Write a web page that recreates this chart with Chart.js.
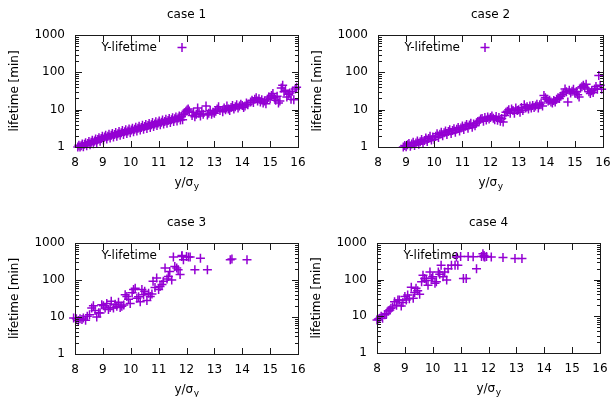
<!DOCTYPE html>
<html>
<head>
<meta charset="utf-8">
<script src="https://cdn.jsdelivr.net/npm/chart.js@4"></script>
<style>
  html, body { margin: 0; padding: 0; background: #fff; }
  #wrap { position: relative; width: 611px; height: 397px; overflow: hidden; background: #fff; }
  #wrap canvas { position: absolute; }
</style>
</head>
<body>
<div id="wrap"></div>
<script>
/************************************************
 *  DATA
 ************************************************/
const titles = ['case 1', 'case 2', 'case 3', 'case 4'];
const seriesLabel = 'Y-lifetime';
const xTicks = [8, 9, 10, 11, 12, 13, 14, 15, 16];
const yTicks = [1, 10, 100, 1000];
const yMinorTicks = [2, 3, 4, 5, 6, 7, 8, 9, 20, 30, 40, 50, 60, 70, 80, 90, 200, 300, 400, 500, 600, 700, 800, 900];

const case1X = [8.10, 8.14, 8.18, 8.22, 8.26, 8.30, 8.34, 8.38, 8.42, 8.46, 8.50, 8.54, 8.58, 8.62, 8.66, 8.70, 8.74, 8.78, 8.82, 8.86,
  8.90, 8.94, 8.98, 9.02, 9.06, 9.10, 9.14, 9.18, 9.22, 9.26, 9.30, 9.34, 9.38, 9.42, 9.46, 9.50, 9.54, 9.58, 9.62, 9.66,
  9.70, 9.74, 9.78, 9.82, 9.86, 9.90, 9.94, 9.98, 10.02, 10.06, 10.10, 10.14, 10.18, 10.22, 10.26, 10.30, 10.34, 10.38, 10.42, 10.46,
  10.50, 10.54, 10.58, 10.62, 10.66, 10.70, 10.74, 10.78, 10.82, 10.86, 10.90, 10.94, 10.98, 11.02, 11.06, 11.10, 11.14, 11.18, 11.22, 11.26,
  11.30, 11.34, 11.38, 11.42, 11.46, 11.50, 11.54, 11.58, 11.62, 11.66, 11.70, 11.74, 11.78, 11.82, 11.86, 11.90, 11.94, 11.98, 12.02, 12.06, 12.10,
  12.20, 12.25, 12.30, 12.35, 12.40, 12.45, 12.50, 12.55, 12.60, 12.70, 12.75, 12.80, 12.85, 12.90, 12.95, 13.00, 13.05, 13.10, 13.15, 13.20,
  13.30, 13.35, 13.40, 13.45, 13.50, 13.55, 13.60, 13.65, 13.70, 13.75, 13.80, 13.85, 13.90, 13.95, 14.00, 14.05, 14.10, 14.15, 14.20, 14.30,
  14.35, 14.40, 14.45, 14.50, 14.55, 14.60, 14.65, 14.70, 14.75, 14.80, 14.85, 14.90, 14.95, 15.00, 15.05, 15.10, 15.15, 15.20, 15.25, 15.30,
  15.35, 15.40, 15.45, 15.50, 15.55, 15.60, 15.65, 15.70, 15.75, 15.80, 15.85, 15.90, 15.95];
const case1Y = [1.00, 1.12, 1.00, 1.08, 1.20, 1.02, 1.18, 1.30, 1.08, 1.25, 1.40, 1.15, 1.35, 1.52, 1.22, 1.45, 1.65, 1.32, 1.58, 1.78,
  1.42, 1.70, 1.95, 1.55, 1.85, 2.05, 1.65, 1.95, 2.20, 1.75, 2.05, 2.30, 1.85, 2.15, 2.45, 1.95, 2.28, 2.60, 2.05, 2.40,
  2.75, 2.15, 2.55, 2.90, 2.30, 2.70, 3.05, 2.40, 2.85, 3.20, 2.55, 3.00, 3.40, 2.70, 3.20, 3.60, 2.85, 3.35, 3.80, 3.00,
  3.55, 4.00, 3.15, 3.75, 4.25, 3.35, 3.95, 4.50, 3.55, 4.15, 4.75, 3.75, 4.40, 5.00, 3.95, 4.60, 5.25, 4.15, 4.85, 5.50,
  4.35, 5.10, 5.80, 4.55, 5.35, 6.10, 4.80, 5.70, 6.40, 5.00, 6.00, 6.80, 5.30, 6.60, 5.40, 7.50, 8.20, 9.00, 9.80, 10.5, 9.20,
  7.0, 8.5, 6.5, 7.5, 11.0, 8.0, 6.8, 9.0, 7.5, 12.5, 7.2, 8.0, 9.5, 7.5, 8.5, 8.0, 9.0, 10.5, 12.0, 9.5,
  8.8, 11.0, 10.0, 12.5, 10.5, 9.5, 11.5, 13.0, 10.5, 12.0, 13.5, 11.0, 12.5, 14.0, 13.0, 11.5, 12.5, 15.0, 13.5, 16.0,
  18.0, 15.5, 19.0, 21.0, 17.0, 19.5, 16.0, 18.5, 15.0, 17.0, 14.5, 19.0, 22.0, 20.0, 24.0, 27.0, 21.0, 18.0, 23.0, 15.0,
  17.0, 38.0, 45.0, 30.0, 33.0, 22.0, 26.0, 28.0, 19.0, 31.0, 18.5, 36.0, 40.0];

const case2X = [8.90, 8.95, 9.00, 9.05, 9.10, 9.15, 9.20, 9.25, 9.30, 9.35, 9.40, 9.45, 9.50, 9.55, 9.60, 9.65, 9.70, 9.75, 9.80, 9.85,
  9.90, 9.95, 10.00, 10.05, 10.10, 10.15, 10.20, 10.25, 10.30, 10.35, 10.40, 10.45, 10.50, 10.55, 10.60, 10.65, 10.70, 10.75, 10.80, 10.85,
  10.90, 10.95, 11.00, 11.05, 11.10, 11.15, 11.20, 11.25, 11.30, 11.35, 11.40, 11.45, 11.50, 11.55, 11.60, 11.65, 11.70, 11.75, 11.80, 11.85,
  11.90, 11.95, 12.00, 12.05, 12.10, 12.15, 12.20, 12.25, 12.30, 12.35, 12.40, 12.45, 12.50, 12.55, 12.60, 12.65, 12.70, 12.75, 12.80, 12.85,
  12.90, 12.95, 13.00, 13.05, 13.10, 13.15, 13.20, 13.25, 13.30, 13.35, 13.40, 13.45, 13.50, 13.55, 13.60, 13.65, 13.70, 13.75, 13.80, 13.85,
  13.90, 13.95, 14.00, 14.05, 14.10, 14.15, 14.20, 14.25, 14.30, 14.35, 14.40, 14.45, 14.50, 14.55, 14.60, 14.65, 14.70, 14.75, 14.80, 14.85,
  14.90, 14.95, 15.00, 15.05, 15.10, 15.15, 15.20, 15.25, 15.30, 15.35, 15.40, 15.45, 15.50, 15.55, 15.60, 15.65, 15.70, 15.75, 15.80, 15.85,
  15.90, 15.95];
const case2Y = [1.00, 1.10, 1.02, 1.15, 1.25, 1.05, 1.20, 1.35, 1.10, 1.28, 1.45, 1.18, 1.38, 1.58, 1.28, 1.50, 1.75, 1.40, 1.70, 1.95,
  1.55, 1.85, 1.60, 1.95, 2.25, 1.80, 2.20, 2.50, 2.00, 2.40, 2.70, 2.15, 2.60, 2.90, 2.30, 2.75, 3.10, 2.50, 3.00, 3.35,
  2.70, 3.25, 3.65, 2.95, 3.60, 4.00, 3.20, 3.90, 4.30, 3.40, 4.10, 3.70, 4.40, 4.80, 5.00, 5.60, 5.80, 4.90, 6.20, 5.30,
  6.40, 5.60, 6.20, 6.80, 5.90, 5.40, 6.60, 5.20, 6.20, 4.90, 5.80, 4.70, 7.00, 8.50, 9.00, 10.0, 8.00, 10.5, 9.50, 8.00,
  11.0, 9.50, 10.0, 8.50, 11.5, 9.50, 13.5, 11.0, 12.0, 10.5, 12.5, 11.0, 13.0, 11.5, 12.5, 14.0, 11.0, 13.5, 15.0, 12.5,
  24.0, 21.0, 19.0, 17.0, 18.0, 16.0, 15.0, 17.5, 16.0, 19.0, 21.0, 20.0, 23.0, 25.0, 28.0, 36.0, 30.0, 16.0, 33.0, 28.0,
  31.0, 35.0, 28.0, 30.0, 25.0, 22.0, 38.0, 41.0, 45.0, 40.0, 48.0, 36.0, 30.0, 27.0, 32.0, 29.0, 36.0, 42.0, 35.0, 82.0,
  45.0, 35.0];

const case3X = [7.95, 8.05, 8.12, 8.18, 8.25, 8.30, 8.38, 8.44, 8.52, 8.60, 8.66, 8.72, 8.78, 8.85, 8.90, 8.96, 9.02, 9.08, 9.14, 9.20,
  9.26, 9.30, 9.38, 9.44, 9.50, 9.56, 9.62, 9.68, 9.75, 9.80, 9.86, 9.92, 9.98, 10.05, 10.10, 10.16, 10.22, 10.28, 10.34, 10.40,
  10.46, 10.50, 10.58, 10.64, 10.70, 10.76, 10.80, 10.87, 10.93, 11.00, 11.05, 11.12, 11.17, 11.23, 11.30, 11.35, 11.40, 11.47, 11.53, 11.58,
  11.65, 11.70, 11.77, 11.83, 11.89, 12.00, 12.07, 12.13, 12.30, 12.50, 12.75, 13.57, 13.63, 14.17];
const case3Y = [9.4, 9.0, 8.1, 9.0, 8.5, 9.4, 8.2, 10.4, 11.5, 17.5, 20.0, 15.0, 10.0, 13.0, 12.8, 21.5, 20.0, 17.5, 23.0, 16.0,
  18.0, 26.5, 17.5, 22.0, 19.5, 25.0, 18.0, 19.5, 21.0, 40.0, 36.0, 30.0, 23.0, 45.0, 55.0, 60.0, 32.0, 35.0, 26.0, 55.0,
  40.0, 50.0, 28.0, 44.0, 36.0, 42.0, 92.0, 63.0, 113, 55.0, 67.0, 75.0, 92.0, 210, 107, 125, 170, 100, 420, 230,
  210, 190, 140, 435, 355, 435, 420, 420, 190, 390, 190, 350, 370, 350];

const case4X = [8.00, 8.05, 8.10, 8.15, 8.20, 8.28, 8.34, 8.40, 8.46, 8.50, 8.56, 8.63, 8.70, 8.75, 8.80, 8.87, 8.93, 9.00, 9.05, 9.10,
  9.16, 9.23, 9.30, 9.35, 9.40, 9.46, 9.53, 9.60, 9.65, 9.71, 9.77, 9.83, 9.90, 9.95, 10.00, 10.08, 10.13, 10.20, 10.25, 10.30,
  10.37, 10.43, 10.50, 10.55, 10.67, 10.80, 10.85, 10.90, 11.00, 11.10, 11.20, 11.27, 11.45, 11.57, 11.75, 11.80, 11.84, 11.87, 11.93, 12.10,
  12.52, 12.95, 13.20];
const case4Y = [8.0, 8.5, 8.9, 10.0, 8.9, 11.0, 12.0, 14.0, 15.0, 16.6, 18.0, 25.0, 20.0, 28.0, 28.0, 19.0, 24.0, 35.0, 28.0, 38.0,
  30.0, 62.0, 31.0, 45.0, 58.0, 50.0, 40.0, 88.0, 133, 108, 95.0, 70.0, 163, 110, 120, 80.0, 88.0, 163, 141, 247,
  120, 163, 98.0, 200, 247, 247, 416, 247, 430, 108, 108, 430, 420, 200, 430, 510, 420, 416, 430, 416,
  400, 375, 375];

const caseX = [case1X, case2X, case3X, case4X];
const caseY = [case1Y, case2Y, case3Y, case4Y];

/************************************************
 *  LAYOUT: plot frames of the four panels (page px)
 ************************************************/
const panelFrames = [
  { left: 75, top: 35, right: 298, bottom: 147 },
  { left: 378, top: 35, right: 603, bottom: 147 },
  { left: 75, top: 243, right: 298, bottom: 354 },
  { left: 377, top: 243, right: 600, bottom: 353 },
];
const Y_AXIS_W = 76, X_AXIS_H = 45, TOP_PAD = 45, RIGHT_PAD = 20;
const FONT = '"DejaVu Sans", "Liberation Sans", sans-serif';
const MARK = '#9400d3';
const FRAME = '#1a1a1a';

Chart.defaults.font.family = FONT;
Chart.defaults.font.size = 12;
Chart.defaults.color = '#000';

function drawPlus(ctx, x, y, r) {
  ctx.beginPath();
  ctx.moveTo(x - r, y); ctx.lineTo(x + r, y);
  ctx.moveTo(x, y - r); ctx.lineTo(x, y + r);
  ctx.stroke();
}

// gnuplot-like decorations: title, legend, border, inward ticks, x title with subscript
function gnuFrame(title) {
  return {
    id: 'gnuFrame',
    beforeDatasetsDraw(chart) {
      const { ctx, scales } = chart;
      const L = scales.x.getPixelForValue(xTicks[0]);
      const T = scales.y.getPixelForValue(yTicks[yTicks.length - 1]);
      const R = scales.x.getPixelForValue(xTicks[xTicks.length - 1]);
      ctx.save();
      ctx.font = '12px ' + FONT;
      ctx.fillStyle = '#000';
      ctx.textBaseline = 'middle';
      ctx.textAlign = 'center';
      ctx.fillText(title, (L + R) / 2, T - 20);
      ctx.textAlign = 'right';
      ctx.fillText(seriesLabel, L + 82, T + 13);
      ctx.strokeStyle = MARK;
      ctx.lineWidth = 1.5;
      drawPlus(ctx, L + 107, T + 12.5, 4.5);
      ctx.restore();
    },
    afterDraw(chart) {
      const { ctx, scales } = chart;
      const xs = scales.x, ys = scales.y;
      const L = Math.round(xs.getPixelForValue(xTicks[0]));
      const R = Math.round(xs.getPixelForValue(xTicks[xTicks.length - 1]));
      const T = Math.round(ys.getPixelForValue(yTicks[yTicks.length - 1]));
      const B = Math.round(ys.getPixelForValue(yTicks[0]));
      ctx.save();
      ctx.fillStyle = FRAME;
      // border (1px filled strips)
      ctx.fillRect(L, T, R - L + 1, 1);
      ctx.fillRect(L, B, R - L + 1, 1);
      ctx.fillRect(L, T, 1, B - T + 1);
      ctx.fillRect(R, T, 1, B - T + 1);
      // inward ticks
      xTicks.forEach(v => {
        const px = Math.round(xs.getPixelForValue(v));
        ctx.fillRect(px, B - 6, 1, 6);
        ctx.fillRect(px, T + 1, 1, 6);
      });
      yTicks.forEach(v => {
        const py = Math.round(ys.getPixelForValue(v));
        ctx.fillRect(L + 1, py, 6, 1);
        ctx.fillRect(R - 6, py, 6, 1);
      });
      yMinorTicks.forEach(v => {
        const py = Math.round(ys.getPixelForValue(v));
        ctx.fillRect(L + 1, py, 3, 1);
        ctx.fillRect(R - 3, py, 3, 1);
      });

      // x axis title "y/σ" with subscript y
      const main = 'y/σ', sub = 'y';
      ctx.fillStyle = '#000';
      ctx.textBaseline = 'alphabetic';
      ctx.textAlign = 'left';
      ctx.font = '12px ' + FONT;
      const w1 = ctx.measureText(main).width;
      ctx.font = '9px ' + FONT;
      const w2 = ctx.measureText(sub).width;
      const x0 = (L + R) / 2 - (w1 + w2) / 2;
      const base = B + 39;
      ctx.font = '12px ' + FONT;
      ctx.fillText(main, x0, base);
      ctx.font = '9px ' + FONT;
      ctx.fillText(sub, x0 + w1 + 0.5, base + 3);
      ctx.restore();
    }
  };
}

/************************************************
 *  BUILD THE FOUR PANELS
 ************************************************/
const wrap = document.getElementById('wrap');

panelFrames.forEach((f, i) => {
  const canvas = document.createElement('canvas');
  const w = (f.right - f.left) + Y_AXIS_W + RIGHT_PAD;
  const h = (f.bottom - f.top) + TOP_PAD + X_AXIS_H;
  canvas.width = w;
  canvas.height = h;
  canvas.style.left = (f.left - Y_AXIS_W) + 'px';
  canvas.style.top = (f.top - TOP_PAD) + 'px';
  canvas.style.width = w + 'px';
  canvas.style.height = h + 'px';
  wrap.appendChild(canvas);

  const points = caseX[i].map((x, k) => ({ x: x, y: caseY[i][k] }));

  new Chart(canvas.getContext('2d'), {
    type: 'scatter',
    data: {
      datasets: [{
        label: seriesLabel,
        data: points,
        pointStyle: 'cross',
        pointRadius: 4.5,
        pointHoverRadius: 4.5,
        borderColor: MARK,
        backgroundColor: MARK,
        pointBorderWidth: 1.5,
        clip: 8,
      }]
    },
    options: {
      responsive: false,
      animation: false,
      devicePixelRatio: 1,
      layout: { padding: { left: 0, right: RIGHT_PAD, top: TOP_PAD, bottom: 0 } },
      plugins: {
        legend: { display: false },
        tooltip: { enabled: false },
        title: { display: false },
      },
      scales: {
        x: {
          type: 'linear',
          min: 8,
          max: 16,
          afterBuildTicks: s => { s.ticks = xTicks.map(v => ({ value: v })); },
          afterFit: s => { s.height = X_AXIS_H; },
          grid: { display: false, drawTicks: false },
          border: { display: false },
          ticks: { padding: 9, font: { size: 12 }, color: '#000', maxRotation: 0, autoSkip: false },
        },
        y: {
          type: 'logarithmic',
          min: 1,
          max: 1000,
          afterBuildTicks: s => { s.ticks = yTicks.map(v => ({ value: v })); },
          afterFit: s => { s.width = Y_AXIS_W; },
          grid: { display: false, drawTicks: false },
          border: { display: false },
          ticks: { padding: 10, font: { size: 12 }, color: '#000', autoSkip: false, callback: v => String(v) },
          title: {
            display: true,
            text: 'lifetime [min]',
            font: { size: 12, lineHeight: 1.2 },
            color: '#000',
            padding: { top: 8.8, bottom: 0 },
          },
        },
      },
    },
    plugins: [gnuFrame(titles[i])],
  });
});
</script>
</body>
</html>
